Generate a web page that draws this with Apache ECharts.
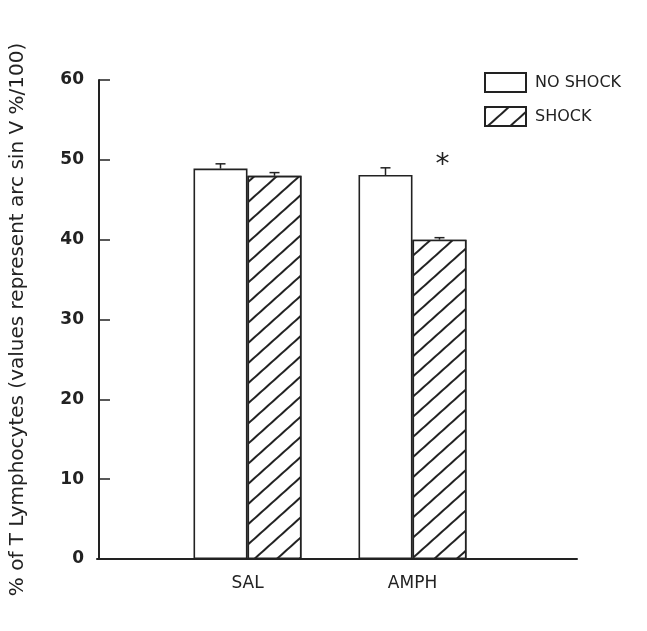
<!DOCTYPE html>
<html><head><meta charset="utf-8">
<script src="https://cdn.jsdelivr.net/npm/echarts@6/dist/echarts.min.js"></script>
<style>html,body{margin:0;padding:0;background:#fff}#c{width:647px;height:631px}</style>
</head><body><div id="c"></div>
<script>
const categories = ['SAL', 'AMPH'];
const noShock = [48.9, 48.1];
const shock = [48.0, 40.0];
const noShockErrTop = [49.5, 49.0];
const shockErrTop = [48.4, 40.25];
const sigMarks = ['', '*'];
const yTicks = [0, 10, 20, 30, 40, 50, 60];

const chart = echarts.init(document.getElementById('c'));
const BW = 54;
const ink = '#222';
const hatch = { symbol: 'rect', dashArrayX: [1, 0], dashArrayY: [2, 13], rotation: -Math.PI / 4.3, color: ink, backgroundColor: '#fff' };
function errSeries(name, tops, dx) {
  return {
    type: 'custom', name: name + ' err', xAxisIndex: 0, yAxisIndex: 0, silent: true,
    data: tops.map((v, i) => [i, v, (name === 'NO SHOCK' ? noShock : shock)[i]]),
    renderItem: function (params, api) {
      const top = api.coord([api.value(0), api.value(1)]);
      const base = api.coord([api.value(0), api.value(2)]);
      const x = top[0] + dx;
      return { type: 'group', children: [
        { type: 'line', shape: { x1: x, y1: base[1], x2: x, y2: top[1] }, style: { stroke: ink, lineWidth: 1.5 } },
        { type: 'line', shape: { x1: x - 5, y1: top[1], x2: x + 5, y2: top[1] }, style: { stroke: ink, lineWidth: 1.5 } }
      ]};
    },
    z: 5
  };
}
chart.setOption({
  animation: false,
  grid: [
    { left: 163, right: 152, top: 80, bottom: 72 },
    { left: 97, right: 70, top: 80, bottom: 72 }
  ],
  legend: {
    left: 479, top: 67, orient: 'vertical', itemWidth: 41, itemHeight: 19, itemGap: 13, icon: 'rect',
    textStyle: { fontFamily: 'DejaVu Sans', fontSize: 16, color: ink, padding: [0, 0, 0, 4] },
    data: ['NO SHOCK', 'SHOCK']
  },
  xAxis: [
    { type: 'category', gridIndex: 0, data: categories,
      axisLine: { show: false }, axisTick: { show: false },
      axisLabel: { fontFamily: 'DejaVu Sans', fontSize: 17, color: ink, margin: 16 } },
    { type: 'value', gridIndex: 1, min: 0, max: 1,
      axisLine: { show: true, lineStyle: { color: ink, width: 2 } },
      axisTick: { show: false }, axisLabel: { show: false }, splitLine: { show: false } }
  ],
  yAxis: [
    { type: 'value', gridIndex: 0, min: 0, max: 60, interval: 10, offset: 66,
      axisLine: { show: true, lineStyle: { color: ink, width: 2 } },
      axisTick: { show: true, inside: true, length: 11, lineStyle: { color: ink, width: 1.5 } },
      splitLine: { show: false },
      axisLabel: { fontFamily: 'DejaVu Sans', fontWeight: 'bold', fontSize: 17, color: ink, margin: 15,
        formatter: v => yTicks.includes(v) ? String(v) : '' },
      name: '% of T Lymphocytes (values represent arc sin V %/100)',
      nameLocation: 'middle', nameGap: 71,
      nameTextStyle: { fontFamily: 'DejaVu Sans', fontSize: 20, color: ink } },
    { type: 'value', gridIndex: 1, min: 0, max: 60, show: false }
  ],
  series: [
    { type: 'bar', name: 'NO SHOCK', data: noShock, barWidth: BW, barGap: '0%',
      itemStyle: { color: '#fff', borderColor: ink, borderWidth: 1.6 } },
    { type: 'bar', name: 'SHOCK', data: shock.map((v, i) => ({ value: v, label: { show: !!sigMarks[i], formatter: sigMarks[i] } })),
      barWidth: BW, barGap: '0%',
      label: { position: 'top', distance: 60, fontSize: 28, fontFamily: 'DejaVu Sans', color: ink, offset: [3, 0] },
      itemStyle: { color: '#fff', borderColor: ink, borderWidth: 1.6, decal: hatch } },
    errSeries('NO SHOCK', noShockErrTop, -BW / 2),
    errSeries('SHOCK', shockErrTop, BW / 2)
  ]
});
</script></body></html>
